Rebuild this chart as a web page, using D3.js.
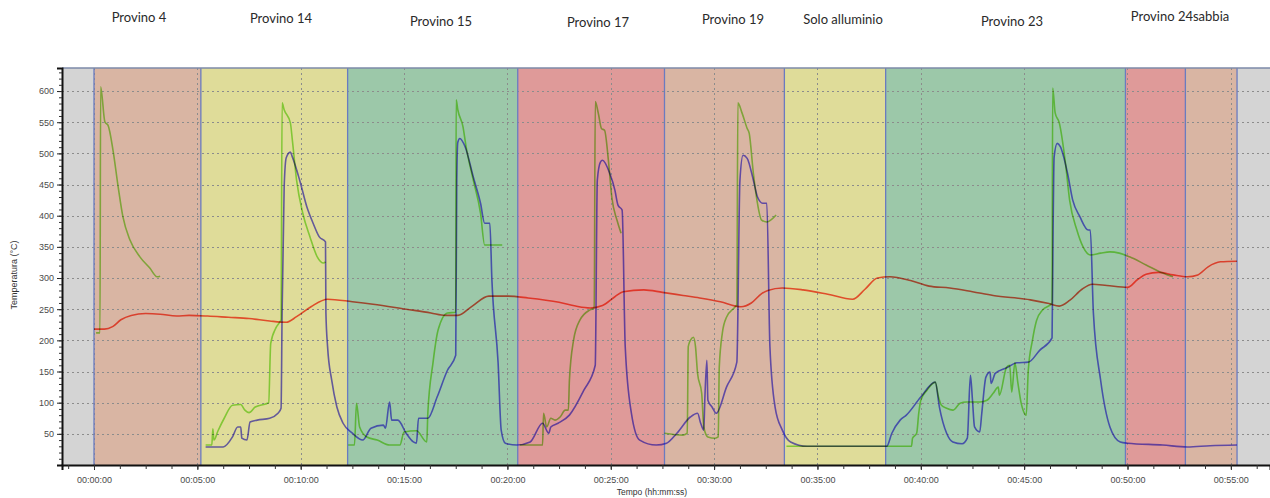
<!DOCTYPE html>
<html>
<head>
<meta charset="utf-8">
<script src="https://cdn.jsdelivr.net/npm/d3@7/dist/d3.min.js"></script>
<style>
  body { margin: 0; background: #ffffff; }
  svg { display: block; }
  .tick text { font-family: "Liberation Sans", Arial, sans-serif; }
</style>
</head>
<body>
<svg id="chart" width="1270" height="498"></svg>
<script>
// Test sections: start/end times in minutes and the fill used for each one
const bandStart = [0, 5.17, 12.27, 20.5, 27.6, 33.4, 38.3, 49.9, 52.8];
const bandEnd   = [5.17, 12.27, 20.5, 27.6, 33.4, 38.3, 49.9, 52.8, 55.3];
const bandFill  = ["#d9b5a3", "#dfdc99", "#9cc8a9", "#df9a99", "#d9b5a3", "#dfdc99", "#9cc8a9", "#df9a99", "#d9b5a3"];

// Section captions above the plot
const sectionNames = ["Provino 4", "Provino 14", "Provino 15", "Provino 17", "Provino 19", "Solo alluminio", "Provino 23", "Provino 24sabbia"];

// Axis ticks
const yTicks = [50, 100, 150, 200, 250, 300, 350, 400, 450, 500, 550, 600];
const xTicks = [0, 5, 10, 15, 20, 25, 30, 35, 40, 45, 50, 55];
const xTickLabels = ["00:00:00", "00:05:00", "00:10:00", "00:15:00", "00:20:00", "00:25:00",
                     "00:30:00", "00:35:00", "00:40:00", "00:45:00", "00:50:00", "00:55:00"];

// Furnace temperature (minutes, °C)
const furnace = [
  [0.0,218],[0.5,218],[0.9,222],[1.3,233],[1.8,240],[2.5,243],[3.2,242],[4.0,239],[4.6,240],
  [5.5,239],[6.5,237],[7.5,235],[8.5,231],[9.3,229],[9.8,238],[10.5,254],[11.3,266],[12.5,262],
  [13.5,258],[15.1,250],[16.3,244],[17.0,240],[17.6,240],[18.3,255],[19.1,271],[20.0,271],
  [21.0,268],[22.5,261],[23.3,255],[24.0,252],[24.6,256],[25.2,270],[25.6,278],[26.6,281],
  [27.5,277],[28.5,272],[29.3,268],[30.3,262],[31.3,254],[31.8,260],[32.3,275],[32.6,280],
  [33.3,284],[34.3,281],[35.5,274],[36.7,266],[37.3,282],[37.9,300],[38.5,302],[39.5,296],
  [40.4,287],[41.4,284],[42.5,278],[43.5,272],[45.3,265],[46.2,259],[46.7,255],[47.2,264],
  [47.8,282],[48.3,290],[49.0,288],[50.0,285],[50.5,298],[50.9,306],[51.5,309],[52.2,305],
  [52.9,302],[53.4,305],[53.9,318],[54.5,326],[55.3,327]
];

// Surface thermocouple (minutes, °C); null marks a pause between tests
const surface = [
  [0.1,212],[0.29,212],[0.32,607],[0.53,550],[0.68,545],[0.92,505],[1.17,446],[1.4,398],
  [1.74,361],[2.22,334],[2.7,316],[3.05,302],[3.2,303],
  null,
  [5.4,32],[5.7,32],[5.75,58],[5.8,40],[6.0,55],[6.3,75],[6.7,96],[7.1,97],[7.3,88],[7.5,84],
  [7.8,93],[8.3,98],[8.45,100],[8.55,195],[8.8,220],[9.0,230],[9.05,233],[9.1,581],[9.2,570],
  [9.5,549],[9.6,520],[9.8,457],[10.1,404],[10.45,366],[10.8,334],[11.1,324],[11.2,326],
  null,
  [12.3,32],[12.6,32],[12.7,99],[12.85,61],[13.2,45],[13.7,40],[14.3,32],[14.8,32],[15.0,53],
  [15.6,55],[16.1,37],[16.15,83],[16.4,164],[16.65,217],[17.1,244],[17.5,245],[17.52,586],
  [17.6,570],[17.85,543],[18.0,511],[18.35,457],[18.7,404],[18.9,353],[19.75,353],
  null,
  [20.6,32],[21.7,32],[21.75,83],[21.9,61],[22.1,75],[22.3,72],[22.55,77],[22.8,88],[22.95,88],
  [23.0,136],[23.2,200],[23.5,232],[24.0,249],[24.2,252],[24.25,583],[24.4,564],[24.55,540],
  [24.7,537],[24.9,484],[25.05,430],[25.3,393],[25.5,372],
  null,
  [27.6,51],[28.5,48],[28.7,51],[28.75,190],[28.85,200],[29.0,205],[29.1,190],[29.2,147],
  [29.4,115],[29.5,61],[29.7,45],[30.05,43],[30.2,45],[30.25,157],[30.4,212],[30.6,237],
  [31.0,253],[31.1,257],[31.15,581],[31.35,565],[31.6,540],[31.7,532],[31.9,468],[32.05,430],
  [32.3,393],[32.55,390],[33.0,401],
  null,
  [33.5,30],[35.0,30],[37.0,30],[38.35,30],[39.55,30],[39.6,43],[39.8,51],[39.9,83],[40.0,104],
  [40.3,120],[40.7,133],[40.85,110],[41.0,96],[41.25,91],[41.55,88],[41.9,99],[42.2,101],
  [42.85,101],[43.2,104],[43.5,115],[43.75,125],[43.8,112],[44.15,157],[44.3,160],[44.4,117],
  [44.55,164],[44.7,131],[44.85,100],[44.95,88],[45.1,80],[45.2,152],[45.4,200],[45.6,232],
  [45.9,249],[46.35,260],[46.38,605],[46.5,565],[46.7,549],[47.0,484],[47.2,425],[47.55,377],
  [47.85,350],[48.2,337],[48.7,340],[49.15,342],[49.6,340],[50.1,334],[50.9,321],[51.7,308],
  [52.2,302]
];

// Core thermocouple (minutes, °C)
const core = [
  [5.4,29],[6.25,29],[6.7,45],[6.95,61],[7.1,61],[7.15,43],[7.4,40],[7.55,69],[7.9,72],[8.5,75],
  [8.9,83],[9.05,91],[9.1,244],[9.2,446],[9.3,493],[9.5,502],[9.6,494],[9.95,457],[10.3,414],
  [10.6,388],[10.9,366],[11.2,358],[11.22,244],[11.3,190],[11.5,136],[11.75,93],[12.05,67],
  [12.5,51],[13.0,40],[13.4,59],[14.0,64],[14.1,59],[14.3,101],[14.4,72],[14.7,72],[15.1,51],
  [15.45,37],[15.6,35],[15.7,75],[16.15,75],[16.6,109],[17.1,152],[17.5,176],[17.55,457],
  [17.6,518],[17.7,524],[17.95,511],[18.35,462],[18.7,420],[18.9,388],[19.15,388],[19.25,297],
  [19.55,164],[19.7,56],[19.9,35],[20.45,32],[21.1,37],[21.7,67],[22.0,51],[22.1,61],[22.45,67],
  [23.0,80],[23.7,120],[24.25,160],[24.35,457],[24.5,486],[24.6,489],[24.95,468],[25.2,441],
  [25.35,417],[25.55,409],[25.7,190],[26.0,83],[26.4,40],[27.2,32],[27.7,35],[28.2,51],
  [28.85,77],[29.2,83],[29.35,67],[29.5,56],[29.55,104],[29.65,168],[29.7,104],[29.9,93],
  [30.1,83],[30.6,125],[31.1,165],[31.25,457],[31.4,497],[31.6,492],[31.9,457],[32.1,430],
  [32.35,420],[32.55,420],[32.7,190],[32.95,93],[33.3,56],[33.7,37],[34.5,30],[36.5,30],
  [38.2,30],[38.35,30],[38.6,51],[39.0,72],[39.3,80],[40.0,109],[40.7,133],[40.9,93],[41.25,51],
  [41.55,37],[42.0,34],[42.25,43],[42.4,144],[42.5,104],[42.6,61],[42.85,53],[42.95,83],
  [43.15,141],[43.35,149],[43.4,131],[43.6,147],[44.15,156],[44.65,164],[45.2,165],[45.75,184],
  [46.35,204],[46.4,377],[46.45,494],[46.6,516],[46.75,511],[47.1,468],[47.35,425],[47.7,398],
  [48.1,377],[48.2,377],[48.35,244],[48.7,136],[49.15,61],[49.65,37],[50.0,35],[51.7,32],
  [52.9,29],[54.0,31],[55.3,32]
];

// ---- layout ----
const plot = { left: 62, right: 1270, top: 68, bottom: 465 };
const labelLayout = [[139, 22], [281, 23], [441, 26], [598, 27], [733, 24], [843, 24], [1012, 26], [1180, 21]];

const svg = d3.select("#chart");

const x = d3.scaleLinear()
  .domain([(plot.left - 94) / 20.67, (plot.right - 94) / 20.67])
  .range([plot.left, plot.right]);
const y = d3.scaleLinear().domain([0, 637]).range([plot.bottom, plot.top]);

svg.append("defs").append("clipPath").attr("id", "plotClip")
  .append("rect")
  .attr("x", plot.left).attr("y", plot.top)
  .attr("width", plot.right - plot.left).attr("height", plot.bottom - plot.top);

// grey plot background
svg.append("rect")
  .attr("x", plot.left).attr("y", plot.top)
  .attr("width", plot.right - plot.left).attr("height", plot.bottom - plot.top)
  .attr("fill", "#d4d4d4");

// coloured test sections
const bands = bandStart.map((s, i) => ({ s, e: bandEnd[i], fill: bandFill[i] }));
const stage = svg.append("g").attr("clip-path", "url(#plotClip)").style("isolation", "isolate");
stage.selectAll("rect.band").data(bands).join("rect")
  .attr("class", "band")
  .attr("x", d => x(d.s)).attr("y", plot.top)
  .attr("width", d => x(d.e) - x(d.s)).attr("height", plot.bottom - plot.top)
  .attr("fill", d => d.fill);

// dotted grid
stage.selectAll("line.hgrid").data(yTicks).join("line")
  .attr("class", "hgrid")
  .attr("x1", plot.left).attr("x2", plot.right)
  .attr("y1", d => Math.round(y(d)) + 0.5).attr("y2", d => Math.round(y(d)) + 0.5)
  .attr("stroke", "#8c8c8c").attr("stroke-width", 1).attr("stroke-dasharray", "2,3");
stage.selectAll("line.vgrid").data(xTicks).join("line")
  .attr("class", "vgrid")
  .attr("x1", d => Math.round(x(d)) + 0.5).attr("x2", d => Math.round(x(d)) + 0.5)
  .attr("y1", plot.top).attr("y2", plot.bottom)
  .attr("stroke", "#8c8c8c").attr("stroke-width", 1).attr("stroke-dasharray", "2,3");

// section boundaries
const edges = Array.from(new Set(bandStart.concat(bandEnd)));
stage.selectAll("line.edge").data(edges).join("line")
  .attr("class", "edge")
  .attr("x1", d => x(d)).attr("x2", d => x(d))
  .attr("y1", plot.top).attr("y2", plot.bottom)
  .attr("stroke", "#6a7bc0").attr("stroke-width", 1.3);

// temperature traces
const line = d3.line()
  .defined(d => d !== null)
  .curve(d3.curveMonotoneX)
  .x(d => x(d[0])).y(d => y(d[1]));

const traces = [
  { data: furnace, color: "#ff5a46" },
  { data: surface, color: "#96e65a" },
  { data: core,    color: "#7268ff" }
];
stage.selectAll("path.trace").data(traces).join("path")
  .attr("class", "trace")
  .attr("d", d => line(d.data))
  .attr("fill", "none")
  .attr("stroke", d => d.color)
  .attr("stroke-width", 1.6)
  .attr("stroke-linejoin", "round")
  .style("mix-blend-mode", "multiply");

// top frame
svg.append("line")
  .attr("x1", plot.left).attr("x2", plot.right)
  .attr("y1", plot.top).attr("y2", plot.top)
  .attr("stroke", "#7d8aa8").attr("stroke-width", 1.5);

// axes
const tickFont = g => g.selectAll("text")
  .attr("fill", "#4a4a4a").style("font-size", "9px");

const yAxis = svg.append("g")
  .attr("transform", `translate(${plot.left},0)`)
  .call(d3.axisLeft(y).tickValues(yTicks).tickSize(5).tickPadding(3));
yAxis.call(tickFont);
yAxis.select(".domain").attr("stroke", "#111").attr("stroke-width", 2);
yAxis.selectAll(".tick line").attr("stroke", "#222");

svg.append("g")
  .attr("transform", `translate(${plot.left},0)`)
  .call(d3.axisLeft(y).tickValues(d3.range(10, 637, 10)).tickSize(3).tickFormat(""))
  .call(g => g.select(".domain").remove())
  .selectAll(".tick line").attr("stroke", "#333");

const xAxis = svg.append("g")
  .attr("transform", `translate(0,${plot.bottom})`)
  .call(d3.axisBottom(x).tickValues(xTicks).tickSize(5).tickPadding(7)
    .tickFormat((d, i) => xTickLabels[i]));
xAxis.call(tickFont);
xAxis.select(".domain").attr("stroke", "#111").attr("stroke-width", 2);
xAxis.selectAll(".tick line").attr("stroke", "#222");

svg.append("g")
  .attr("transform", `translate(0,${plot.bottom})`)
  .call(d3.axisBottom(x).tickValues(d3.range(-1.25, 57, 1.25)).tickSize(4).tickFormat(""))
  .call(g => g.select(".domain").remove())
  .selectAll(".tick line").attr("stroke", "#333");

// axis titles
svg.append("text")
  .attr("transform", "translate(17,275) rotate(-90)")
  .attr("text-anchor", "middle")
  .style("font-family", "'Liberation Sans', Arial, sans-serif")
  .style("font-size", "9px").attr("fill", "#333")
  .text("Temperatura (°C)");

svg.append("text")
  .attr("x", 652).attr("y", 495)
  .attr("text-anchor", "middle")
  .style("font-family", "'Liberation Sans', Arial, sans-serif")
  .style("font-size", "8.5px").attr("fill", "#333")
  .text("Tempo (hh:mm:ss)");

// section captions
svg.selectAll("text.caption").data(sectionNames).join("text")
  .attr("class", "caption")
  .attr("x", (d, i) => labelLayout[i][0])
  .attr("y", (d, i) => labelLayout[i][1])
  .attr("text-anchor", "middle")
  .style("font-family", "Lato, 'Open Sans', sans-serif")
  .style("font-size", "13px")
  .attr("fill", "#2a2a2a")
  .text(d => d);
</script>
</body>
</html>
